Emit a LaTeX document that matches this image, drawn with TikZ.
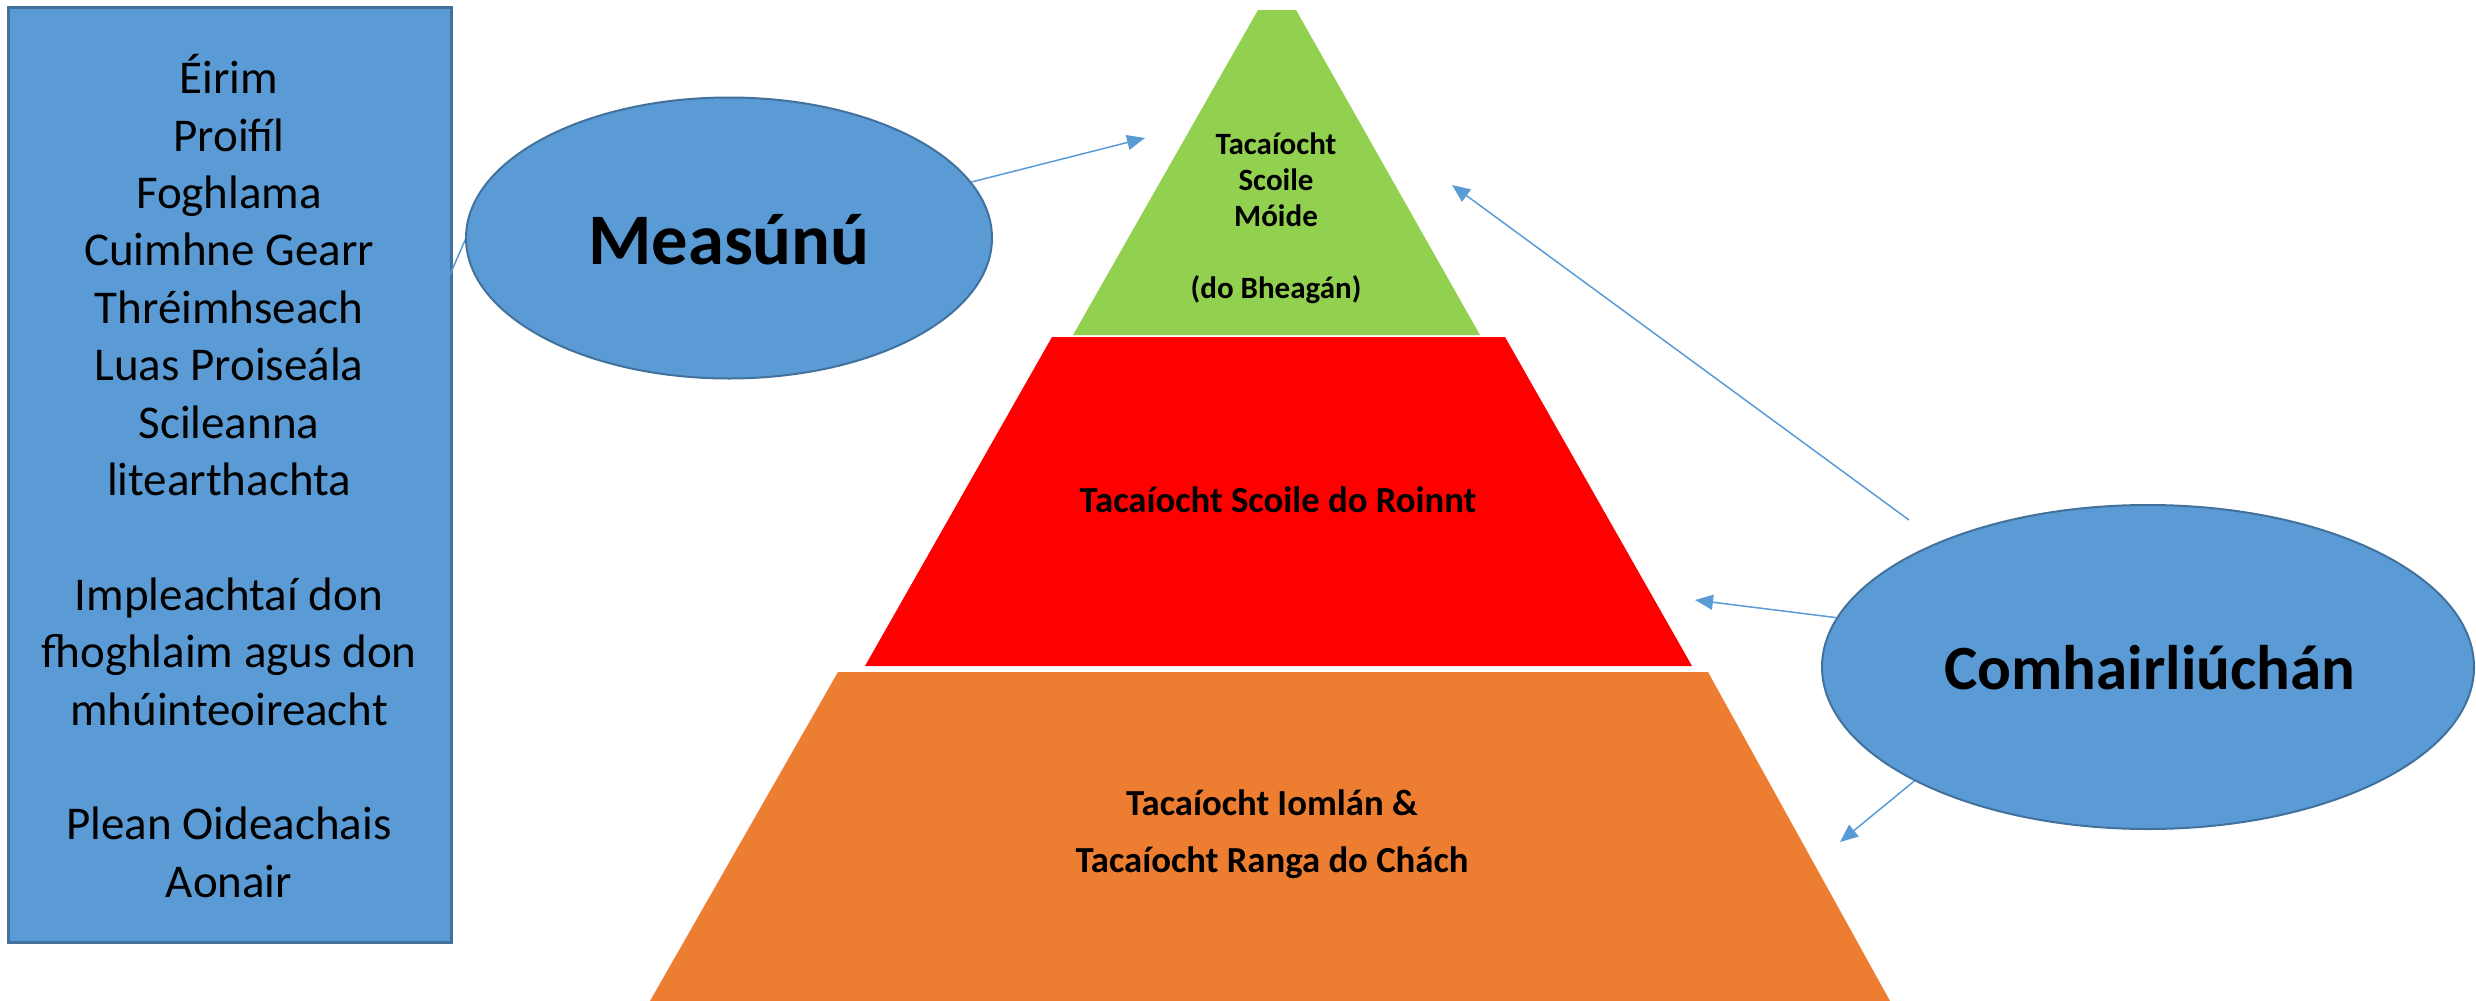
\documentclass[tikz,border=0pt]{standalone}
\usepackage{fontspec}
\setmainfont{Carlito}
\usetikzlibrary{arrows.meta,shapes.geometric}
\definecolor{blueF}{HTML}{5B9BD5}
\definecolor{blueD}{HTML}{41719C}
\definecolor{greenL}{HTML}{92D050}
\definecolor{redL}{HTML}{FF0000}
\definecolor{orangeL}{HTML}{ED7D31}
\tikzset{
  conn/.style={draw=blueF, line width=1.5pt},
  arr/.style={conn, -{Triangle[length=18pt,width=15pt]}},
  bluebox/.style={draw=blueD, line width=2.5pt, fill=blueF, inner sep=0pt},
  blueell/.style={ellipse, draw=blueD, line width=2pt, fill=blueF, inner sep=0pt},
  layertext/.style={align=center, font=\bfseries\fontsize{36.7}{57}\selectfont},
}
\begin{document}
\begin{tikzpicture}[x=1pt,y=-1pt]
\useasboundingbox (0,0) rectangle (2476,1001);

% left box
\node[bluebox, anchor=north west, minimum width=443pt, minimum height=935pt] (box) at (7,6) {};
\node[align=center, font=\fontsize{47}{57.4}\selectfont] (boxtext) at (229,476)
 {Éirim\\Proifíl\\Foghlama\\Cuimhne Gearr\\Thréimhseach\\Luas Proiseála\\Scileanna\\litearthachta\\[57.4pt]
  Impleachtaí don\\fhoghlaim agus don\\mhúinteoireacht\\[57.4pt]
  Plean Oideachais\\Aonair};

% pyramid
\fill[greenL] (1258,10) -- (1296,10) -- (1480,335) -- (1073,335) -- cycle;
\fill[redL] (1052,337) -- (1505,337) -- (1692,666) -- (865,666) -- cycle;
\fill[orangeL] (838,672) -- (1708,672) -- (1890,1001) -- (650,1001) -- cycle;
\node[align=center, font=\bfseries\fontsize{31}{36}\selectfont] (top) at (1276,218)
 {Tacaíocht\\Scoile\\Móide\\[36pt](do Bheagán)};
\node[layertext] (mid) at (1278,500) {Tacaíocht Scoile do Roinnt};
\node[layertext] (base) at (1272,834) {Tacaíocht Iomlán \&\\Tacaíocht Ranga do Chách};

% box to Measúnú connector
\coordinate (bx) at (449,277);
\coordinate (mw) at (466,238);
\draw[conn] (bx) -- (mw);

% ellipses
\node[blueell, minimum width=526pt, minimum height=281pt] (meas) at (729,238) {};
\node[font=\bfseries\fontsize{72.6}{80}\selectfont] (meastext) at (729,240) {Measúnú};
\node[blueell, minimum width=652pt, minimum height=324pt] (comh) at (2148,667) {};
\node[font=\bfseries\fontsize{63}{70}\selectfont] (comhtext) at (2150,668) {Comhairliúchán};

% arrows
\coordinate (t1) at (1145,138);
\coordinate (t2) at (1452,185);
\coordinate (t3) at (1695,600);
\coordinate (t4) at (1840,842);
\coordinate (c1) at (1909,520);
\draw[arr] (meas.13) -- (t1);
\draw[arr] (c1) -- (t2);
\draw[arr] (comh.171) -- (t3);
\draw[arr] (comh.206.6) -- (t4);
\end{tikzpicture}
\end{document}
